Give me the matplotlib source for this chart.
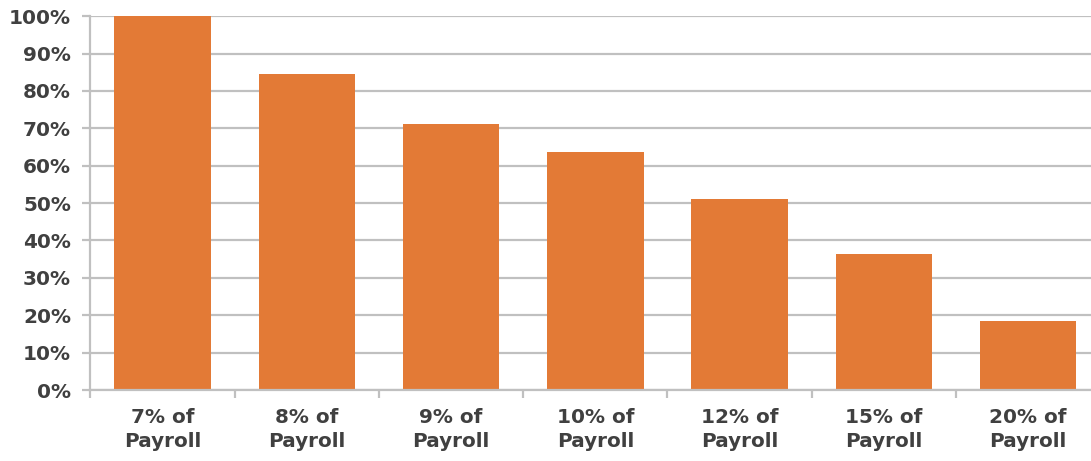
import matplotlib.pyplot as plt
import numpy as np
from matplotlib.ticker import PercentFormatter, FixedLocator

categories = ["7% of\nPayroll", "8% of\nPayroll", "9% of\nPayroll", "10% of\nPayroll",
              "12% of\nPayroll", "15% of\nPayroll", "20% of\nPayroll"]
values = [100, 84.5, 71.2, 63.7, 51.0, 36.4, 18.5]

plt.rcParams["font.family"] = ["DejaVu Sans"]
plt.rcParams["font.weight"] = "bold"

fig = plt.figure(figsize=(10.91, 4.61), dpi=100)
# axes runs slightly past the right edge, as in the original crop
ax = fig.add_axes([0.0829, 0.154, 0.9256, 0.811])

x = np.arange(len(categories))
ax.bar(x, values, width=0.67, color="#E37A36", zorder=3)

ax.set_xlim(-0.5, len(categories) - 0.5)
ax.set_ylim(0, 100)
ax.set_yticks(np.arange(0, 101, 10))
ax.yaxis.set_major_formatter(PercentFormatter(decimals=0))
ax.grid(axis="y", color="#c0c0c0", linewidth=1.6, zorder=0)

ax.set_xticks(x)
ax.set_xticklabels(categories, fontsize=14.4, fontweight="bold", color="#404040",
                   linespacing=1.3)
ax.xaxis.set_minor_locator(FixedLocator(np.arange(-0.5, len(categories), 1)))
ax.tick_params(axis="x", which="major", length=0, pad=13)
ax.tick_params(axis="x", which="minor", length=6, width=1.6, color="#c0c0c0")
ax.tick_params(axis="y", length=6, width=1.6, color="#c0c0c0", labelsize=14.4,
               labelcolor="#404040", pad=8)
for lbl in ax.get_yticklabels():
    lbl.set_fontweight("bold")

for s in ["top", "right"]:
    ax.spines[s].set_visible(False)
for s in ["left", "bottom"]:
    ax.spines[s].set_color("#c0c0c0")
    ax.spines[s].set_linewidth(1.6)
ax.spines["bottom"].set_zorder(4)

fig.savefig("out.png", dpi=100)
